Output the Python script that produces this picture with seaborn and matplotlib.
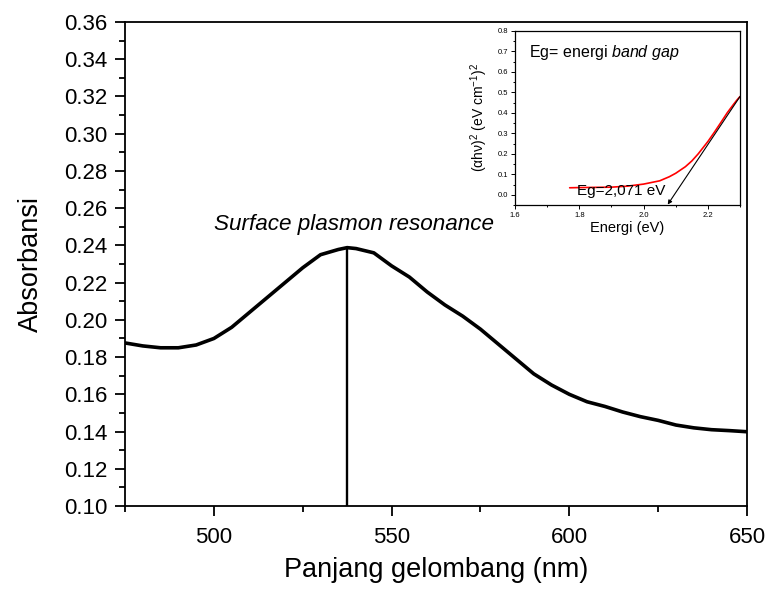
import numpy as np
import pandas as pd
import matplotlib
matplotlib.use("Agg")
import matplotlib.pyplot as plt
from matplotlib.ticker import MultipleLocator, FormatStrFormatter
import seaborn as sns

# Main spectrum
wavelength = [475, 480, 485, 490, 495, 500, 505, 510, 515, 520, 525, 530, 535, 537.5,
              540, 545, 550, 555, 560, 565, 570, 575, 580, 585, 590, 595, 600, 605,
              610, 615, 620, 625, 630, 635, 640, 645, 650]
absorbance = [0.1876, 0.186, 0.185, 0.1850, 0.1865, 0.190, 0.196, 0.204, 0.212, 0.220,
              0.228, 0.235, 0.2378, 0.2388, 0.2383, 0.236, 0.229, 0.223, 0.215, 0.208,
              0.202, 0.195, 0.187, 0.179, 0.171, 0.165, 0.160, 0.156, 0.1535, 0.1505,
              0.148, 0.146, 0.1435, 0.142, 0.141, 0.1405, 0.1399]
spr_peak_x = [537.5, 537.5]
spr_peak_y = [0.10, 0.2388]

# Inset (Tauc plot)
energy = [1.77, 1.80, 1.85, 1.90, 1.95, 2.00, 2.05, 2.08, 2.10, 2.13, 2.15, 2.17, 2.20,
          2.22, 2.24, 2.26, 2.28, 2.29, 2.30]
tauc = [0.034, 0.035, 0.036, 0.037, 0.042, 0.052, 0.068, 0.088, 0.105, 0.137, 0.165,
        0.200, 0.260, 0.305, 0.352, 0.400, 0.442, 0.462, 0.480]
tangent_x = [2.30, 2.075]
tangent_y = [0.48, -0.048]

sns.set_style("ticks")
plt.rcParams['font.family'] = ['Liberation Sans', 'DejaVu Sans']
plt.rcParams['mathtext.fontset'] = 'custom'
plt.rcParams['mathtext.rm'] = 'Liberation Sans'
plt.rcParams['mathtext.it'] = 'Liberation Sans:italic'
plt.rcParams['text.color'] = 'black'
plt.rcParams['axes.labelcolor'] = 'black'
plt.rcParams['xtick.color'] = 'black'
plt.rcParams['ytick.color'] = 'black'

fig = plt.figure(figsize=(7.68, 5.89), dpi=100)
ax = fig.add_axes([0.1628, 0.1409, 0.8099, 0.8217])

df = pd.DataFrame({"x": wavelength, "y": absorbance})
sns.lineplot(data=df, x="x", y="y", ax=ax, color="black", linewidth=2.6, estimator=None)
sns.lineplot(x=spr_peak_x, y=spr_peak_y, ax=ax, color="black", linewidth=1.7,
             estimator=None, sort=False)

ax.set_xlim(475, 650)
ax.set_ylim(0.10, 0.36)
ax.xaxis.set_major_locator(MultipleLocator(50))
ax.xaxis.set_minor_locator(MultipleLocator(25))
ax.yaxis.set_major_locator(MultipleLocator(0.02))
ax.yaxis.set_minor_locator(MultipleLocator(0.01))
ax.yaxis.set_major_formatter(FormatStrFormatter('%.2f'))
ax.tick_params(which='major', direction='out', length=7, width=1.3, labelsize=16, pad=5.5)
ax.tick_params(axis='x', which='major', pad=8)
ax.tick_params(which='minor', direction='out', length=4, width=1.3)
for s in ax.spines.values():
    s.set_linewidth(1.3)
    s.set_color('black')
ax.set_xlabel("Panjang gelombang (nm)", fontsize=19.5)
ax.set_ylabel("Absorbansi", fontsize=19.5)
ax.xaxis.set_label_coords(0.5, -0.105)
ax.yaxis.set_label_coords(-0.13, 0.5)
ax.text(539.5, 0.2455, "Surface plasmon resonance", style='italic', fontsize=16.2,
        ha='center', va='bottom')

# Inset
axin = fig.add_axes([0.6706, 0.652, 0.293, 0.2954])
dfi = pd.DataFrame({"e": energy, "t": tauc})
sns.lineplot(data=dfi, x="e", y="t", ax=axin, color="red", linewidth=1.2, estimator=None)
axin.annotate("", xy=(tangent_x[1], tangent_y[1]), xytext=(tangent_x[0], tangent_y[0]),
              arrowprops=dict(arrowstyle="-|>", color="black", lw=0.8,
                              mutation_scale=6, shrinkA=0, shrinkB=0), zorder=5)
axin.set_xlim(1.6, 2.3)
axin.set_ylim(-0.05, 0.8)
axin.xaxis.set_major_locator(MultipleLocator(0.2))
axin.xaxis.set_minor_locator(MultipleLocator(0.1))
axin.yaxis.set_major_locator(MultipleLocator(0.1))
axin.yaxis.set_minor_locator(MultipleLocator(0.05))
axin.xaxis.set_major_formatter(FormatStrFormatter('%.1f'))
axin.yaxis.set_major_formatter(FormatStrFormatter('%.1f'))
axin.tick_params(which='major', direction='out', length=3, width=0.7, labelsize=5.5, pad=2)
axin.tick_params(which='minor', direction='out', length=1.5, width=0.7)
for s in axin.spines.values():
    s.set_linewidth(0.9)
    s.set_color('black')
axin.set_xlabel("Energi (eV)", fontsize=10.5)
axin.set_ylabel(r"$(\mathrm{\alpha h\nu})^2$ (eV cm$^{-1}$)$^2$", fontsize=10)
axin.xaxis.set_label_coords(0.5, -0.09)
axin.yaxis.set_label_coords(-0.11, 0.5)
axin.text(0.06, 0.93, r"Eg= energi $\mathit{band\ gap}$", transform=axin.transAxes,
          fontsize=11.5, ha='left', va='top')
axin.text(1.93, -0.015, "Eg=2,071 eV", fontsize=11, ha='center', va='bottom')

fig.savefig("out.png", dpi=100)
